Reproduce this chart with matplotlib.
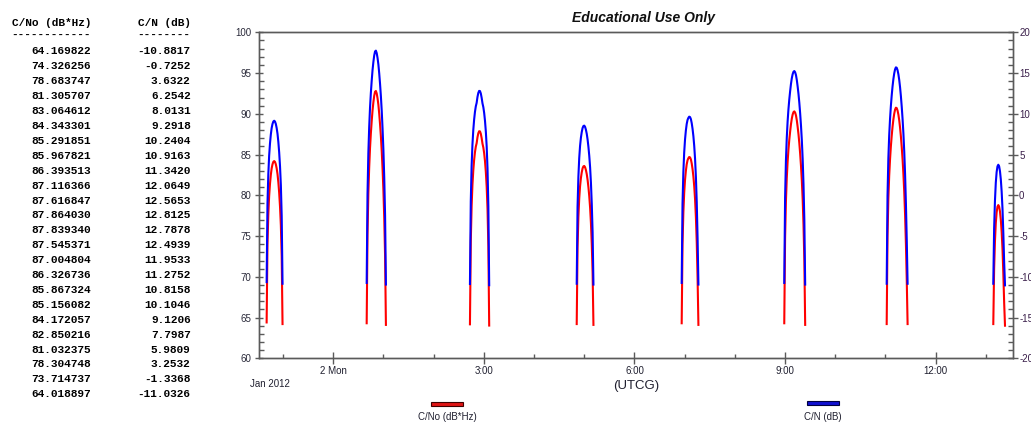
import datetime as dt
import matplotlib
matplotlib.use("Agg")
import matplotlib.pyplot as plt
import matplotlib.dates as mdates
from matplotlib.ticker import FixedLocator, FixedFormatter, MultipleLocator
from matplotlib.patches import Rectangle

# ---------------- data ----------------
pass_starts = [
    dt.datetime(2012, 1, 1, 22, 40, 20),
    dt.datetime(2012, 1, 2, 0, 39, 54),
    dt.datetime(2012, 1, 2, 2, 43, 20),
    dt.datetime(2012, 1, 2, 4, 50, 56),
    dt.datetime(2012, 1, 2, 6, 56, 24),
    dt.datetime(2012, 1, 2, 8, 59, 0),
    dt.datetime(2012, 1, 2, 11, 1, 25),
    dt.datetime(2012, 1, 2, 13, 8, 50),
]
step_seconds = 60

cno_pass1 = [64.4, 74.0, 77.6, 79.9, 81.4, 82.5, 83.3, 83.8, 84.1, 84.2, 84.1, 83.8,
             83.3, 82.6, 81.6, 80.3, 78.6, 76.3, 72.5, 64.2]
cno_pass2 = [64.3, 75.2, 80.2, 83.4, 85.8, 87.6, 89.1, 90.4, 91.4, 92.2, 92.7, 92.8,
             92.5, 91.9, 91.1, 90.0, 88.7, 87.2, 85.4, 83.2, 80.6, 77.2, 72.6, 64.1]
cno_pass3 = [64.169822, 74.326256, 78.683747, 81.305707, 83.064612, 84.343301,
             85.291851, 85.967821, 86.393513, 87.116366, 87.616847, 87.864030,
             87.839340, 87.545371, 87.004804, 86.326736, 85.867324, 85.156082,
             84.172057, 82.850216, 81.032375, 78.304748, 73.714737, 64.018897]
cno_pass4 = [64.2, 73.6, 77.3, 79.6, 81.1, 82.1, 82.8, 83.3, 83.55, 83.6, 83.45, 83.1,
             82.6, 81.9, 81.0, 79.9, 78.5, 76.6, 74.0, 70.5, 64.1]
cno_pass5 = [64.3, 74.0, 77.9, 80.3, 81.9, 83.0, 83.8, 84.3, 84.55, 84.7, 84.65, 84.4,
             83.9, 83.2, 82.3, 81.1, 79.5, 77.3, 74.2, 69.8, 64.1]
cno_pass6 = [64.3, 74.8, 79.3, 82.1, 84.1, 85.6, 86.8, 87.8, 88.7, 89.4, 89.9, 90.2,
             90.3, 90.15, 89.8, 89.2, 88.4, 87.5, 86.4, 85.1, 83.6, 81.8, 79.5, 76.4,
             72.0, 64.1]
cno_pass7 = [64.2, 75.0, 79.6, 82.4, 84.4, 86.0, 87.3, 88.4, 89.3, 90.0, 90.5, 90.75,
             90.7, 90.4, 89.9, 89.2, 88.3, 87.2, 85.9, 84.4, 82.6, 80.4, 77.6, 74.0,
             69.5, 64.2]
cno_pass8 = [64.2, 71.0, 74.4, 76.6, 77.9, 78.6, 78.8, 78.6, 78.0, 77.0, 75.5, 73.4,
             70.4, 66.8, 64.0]

cn_pass1 = [-10.65, -1.05, 2.55, 4.85, 6.35, 7.45, 8.25, 8.75, 9.05, 9.15, 9.05, 8.75,
            8.25, 7.55, 6.55, 5.25, 3.55, 1.25, -2.55, -10.85]
cn_pass2 = [-10.75, 0.15, 5.15, 8.35, 10.75, 12.55, 14.05, 15.35, 16.35, 17.15, 17.65,
            17.75, 17.45, 16.85, 16.05, 14.95, 13.65, 12.15, 10.35, 8.15, 5.55, 2.15,
            -2.45, -10.95]
cn_pass3 = [-10.8817, -0.7252, 3.6322, 6.2542, 8.0131, 9.2918, 10.2404, 10.9163,
            11.3420, 12.0649, 12.5653, 12.8125, 12.7878, 12.4939, 11.9533, 11.2752,
            10.8158, 10.1046, 9.1206, 7.7987, 5.9809, 3.2532, -1.3368, -11.0326]
cn_pass4 = [-10.85, -1.45, 2.25, 4.55, 6.05, 7.05, 7.75, 8.25, 8.5, 8.55, 8.4, 8.05,
            7.55, 6.85, 5.95, 4.85, 3.45, 1.55, -1.05, -4.55, -10.95]
cn_pass5 = [-10.75, -1.05, 2.85, 5.25, 6.85, 7.95, 8.75, 9.25, 9.5, 9.65, 9.6, 9.35,
            8.85, 8.15, 7.25, 6.05, 4.45, 2.25, -0.85, -5.25, -10.95]
cn_pass6 = [-10.75, -0.25, 4.25, 7.05, 9.05, 10.55, 11.75, 12.75, 13.65, 14.35, 14.85,
            15.15, 15.25, 15.1, 14.75, 14.15, 13.35, 12.45, 11.35, 10.05, 8.55, 6.75,
            4.45, 1.35, -3.05, -10.95]
cn_pass7 = [-10.85, -0.05, 4.55, 7.35, 9.35, 10.95, 12.25, 13.35, 14.25, 14.95, 15.45,
            15.7, 15.65, 15.35, 14.85, 14.15, 13.25, 12.15, 10.85, 9.35, 7.55, 5.35,
            2.55, -1.05, -5.55, -10.85]
cn_pass8 = [-10.85, -4.05, -0.65, 1.55, 2.85, 3.55, 3.75, 3.55, 2.95, 1.95, 0.45,
            -1.65, -4.65, -8.25, -11.05]

cno_passes = [cno_pass1, cno_pass2, cno_pass3, cno_pass4, cno_pass5, cno_pass6,
              cno_pass7, cno_pass8]
cn_passes = [cn_pass1, cn_pass2, cn_pass3, cn_pass4, cn_pass5, cn_pass6,
             cn_pass7, cn_pass8]

# table shown on the left (the pass near 3:00)
table_cno = cno_pass3
table_cn = cn_pass3

x_tick_times = [dt.datetime(2012, 1, 2, 0), dt.datetime(2012, 1, 2, 3),
                dt.datetime(2012, 1, 2, 6), dt.datetime(2012, 1, 2, 9),
                dt.datetime(2012, 1, 2, 12)]
x_tick_labels = ["2 Mon", "3:00", "6:00", "9:00", "12:00"]
x_start = dt.datetime(2012, 1, 1, 22, 31, 34)
x_end = dt.datetime(2012, 1, 2, 13, 32, 2)

left_label = "C/No (dB*Hz)"
right_label = "C/N (dB)"

# ---------------- figure ----------------
plt.rcParams['font.family'] = ['Liberation Sans', 'DejaVu Sans']
plt.rcParams['axes.unicode_minus'] = False
W, H = 1031, 423
fig = plt.figure(figsize=(W / 100, H / 100), dpi=100)

x0, x1, ytop, ybot = 259.3, 1012.7, 32.3, 358.3
ax = fig.add_axes([x0 / W, 1 - ybot / H, (x1 - x0) / W, (ybot - ytop) / H])
ax2 = ax.twinx()

RED = '#ff0000'
BLUE = '#0000ff'
for start, cno, cn in zip(pass_starts, cno_passes, cn_passes):
    times = [start + dt.timedelta(seconds=i * step_seconds) for i in range(len(cno))]
    ax.plot(times, cno, color=RED, lw=1.5)
    ax2.plot(times, cn, color=BLUE, lw=1.5)

ax.set_xlim(mdates.date2num(x_start), mdates.date2num(x_end))
ax.set_ylim(60, 100)
ax2.set_ylim(-20, 20)

spine_col = '#5a5a5a'
for a in (ax, ax2):
    for s in a.spines.values():
        s.set_color(spine_col)
        s.set_linewidth(1.0)

ax.xaxis.set_major_locator(FixedLocator(mdates.date2num(x_tick_times)))
ax.xaxis.set_major_formatter(FixedFormatter(x_tick_labels))
ax.xaxis.set_minor_locator(mdates.HourLocator())
ax.tick_params(axis='x', which='major', direction='inout', length=8.8, width=1.0,
               color=spine_col, labelsize=7, labelcolor='#202030', pad=1.0)
ax.tick_params(axis='x', which='minor', direction='in', length=3.2, width=1.0,
               color=spine_col)

ax.yaxis.set_major_locator(MultipleLocator(5))
ax.yaxis.set_minor_locator(MultipleLocator(1))
ax.tick_params(axis='y', which='major', direction='inout', length=6.2, width=1.0,
               color=spine_col, labelsize=7, labelcolor='#2a2a3a', pad=2.4)
ax.tick_params(axis='y', which='minor', direction='in', length=3.6, width=1.0,
               color=spine_col)

ax2.yaxis.set_major_locator(MultipleLocator(5))
ax2.yaxis.set_minor_locator(MultipleLocator(1))
ax2.tick_params(axis='y', which='major', direction='inout', length=7.6, width=1.0,
                color=spine_col, labelsize=7, labelcolor='#3a1f4a', pad=0.8)
ax2.tick_params(axis='y', which='minor', direction='in', length=3.6, width=1.0,
                color=spine_col)

def fy(y):
    return 1 - y / H

fig.text(643 / W, fy(18.3), "Educational Use Only", ha='center', va='center',
         fontsize=10, fontweight='bold', fontstyle='italic', color='#101010')
fig.text(270.3 / W, fy(384.3), "Jan 2012", ha='center', va='center', fontsize=7,
         color='#202030')
fig.text(636 / W, fy(386), "(UTCG)", ha='center', va='center', fontsize=9.5,
         color='#202030')

# legend
fig.add_artist(Rectangle((431 / W, fy(405.5)), 32 / W, 4 / H, transform=fig.transFigure,
                         facecolor='#e01515', edgecolor='#400000', lw=0.8))
fig.text(447 / W, fy(416.7), left_label, ha='center', va='center', fontsize=7,
         color='#202030')
fig.add_artist(Rectangle((806.7 / W, fy(405.3)), 32 / W, 4 / H, transform=fig.transFigure,
                         facecolor='#1010d0', edgecolor='#000040', lw=0.8))
fig.text(822.8 / W, fy(416.7), right_label, ha='center', va='center', fontsize=7,
         color='#202030')

# left text table
mono = dict(family=['Liberation Mono', 'DejaVu Sans Mono'], weight='bold', size=8,
            color='#000000', ha='right', va='center')
c1, c2 = 91.0 / W, 190.7 / W
fig.text(c1, fy(22.7), left_label, **mono)
fig.text(c2, fy(22.7), right_label, **mono)
fig.text(c1, fy(35.0), '-' * len(left_label), **mono)
fig.text(c2, fy(35.0), '-' * len(right_label), **mono)
row0, row_step = 51.5, 14.9
for i, (a, b) in enumerate(zip(table_cno, table_cn)):
    fig.text(c1, fy(row0 + i * row_step), f"{a:.6f}", **mono)
    fig.text(c2, fy(row0 + i * row_step), f"{b:.4f}", **mono)

fig.savefig("out.png", dpi=100)
